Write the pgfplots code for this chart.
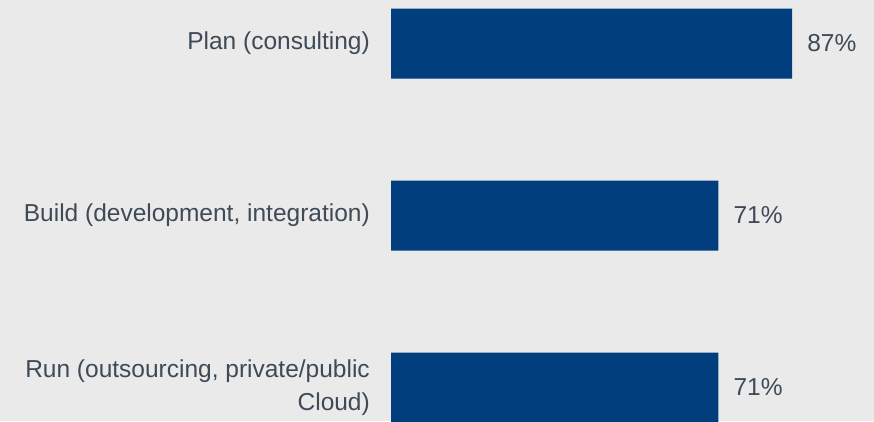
\documentclass[border=0pt]{standalone}
\usepackage{pgfplots}
\pgfplotsset{compat=1.18}
\usepackage{fontspec}
\setmainfont{Liberation Sans}
\definecolor{bgc}{HTML}{EAEAEA}
\definecolor{barc}{HTML}{003E7E}
\definecolor{txtc}{HTML}{3F4A57}
\begin{document}
\begin{tikzpicture}
\fill[bgc] (0,0) rectangle (874pt,421pt);
\useasboundingbox (0,0) rectangle (874pt,421pt);
\begin{axis}[
  at={(391pt,0pt)}, anchor=south west,
  scale only axis, width=483pt, height=421pt,
  xmin=0, xmax=104.77,
  ymin=-0.2529, ymax=2.1948,
  y dir=reverse,
  xbar, bar width=70pt,
  axis line style={draw=none},
  tick style={draw=none},
  major tick length=0pt,
  xtick=\empty,
  ytick={0,1,2},
  yticklabels={{Plan (consulting)},{Build (development, integration)},{Run (outsourcing, private/public\\Cloud)}},
  yticklabel style={align=right, inner sep=0pt, xshift=-21pt, font=\fontsize{24.5}{33}\selectfont, text=txtc},
  nodes near coords={\pgfmathprintnumber[assume math mode=true]{\pgfplotspointmeta}\%},
  every node near coord/.append style={anchor=west, inner sep=0pt, xshift=15pt, font=\fontsize{24.5}{29}\selectfont, text=txtc},
  point meta=x,
  clip=true,
]
\addplot[draw=none, fill=barc] coordinates {(87,0) (71,1) (71,2)};
\end{axis}
\end{tikzpicture}
\end{document}
